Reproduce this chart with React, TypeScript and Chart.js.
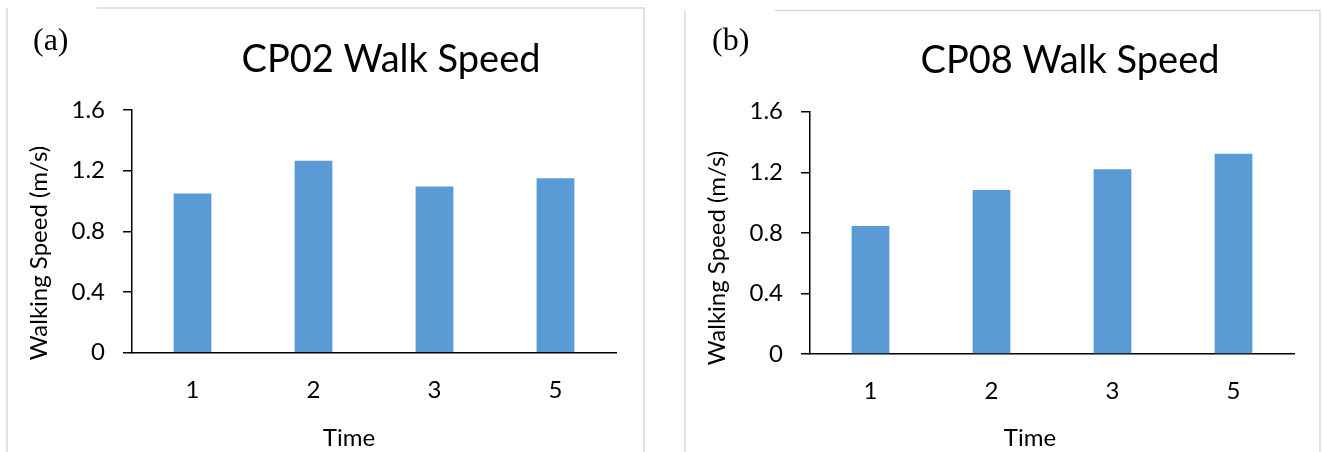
import React, { useEffect, useRef } from "react";
import { Chart, registerables } from "chart.js";

Chart.register(...registerables);

// ---- data ----
const categories = ["1", "2", "3", "5"];
const cp02Speed = [1.05, 1.265, 1.095, 1.15];
const cp08Speed = [0.845, 1.083, 1.22, 1.323];
const yTickValues = [0, 0.4, 0.8, 1.2, 1.6];
const yTickLabels = ["0", "0.4", "0.8", "1.2", "1.6"];
const panelLabels = ["(a)", "(b)"];
const chartTitles = ["CP02 Walk Speed", "CP08 Walk Speed"];
const xAxisTitle = "Time";
const yAxisTitle = "Walking Speed (m/s)";

const BAR_COLOR = "#5B9BD5";
const FONT = "Lato, 'Open Sans', sans-serif";
const TICK_SIZE = 24;
const AXIS_TITLE_SIZE = 24;
const TITLE_SIZE = 38;

type Layout = {
  canvasLeft: number;
  width: number;
  area: { left: number; right: number; top: number; bottom: number };
  frame: { left: number; top: number; topStart: number; right: number };
  label: { x: number; y: number };
  title: { x: number; y: number };
  yTitle: { x: number; y: number };
  xTitle: { x: number; y: number };
};

const layouts: Layout[] = [
  {
    canvasLeft: 0,
    width: 660,
    area: { left: 132, right: 616, top: 110, bottom: 352.7 },
    frame: { left: 7, top: 8, topStart: 97, right: 644 },
    label: { x: 33, y: 50 },
    title: { x: 391, y: 72 },
    yTitle: { x: 39, y: 253 },
    xTitle: { x: 349, y: 438 },
  },
  {
    canvasLeft: 660,
    width: 663,
    area: { left: 150, right: 634, top: 111.7, bottom: 354 },
    frame: { left: 25, top: 10.5, topStart: 115, right: 660 },
    label: { x: 52, y: 50 },
    title: { x: 410, y: 73 },
    yTitle: { x: 57, y: 258 },
    xTitle: { x: 370, y: 438 },
  },
];

const HEIGHT = 452;
const X_SCALE_H = 50;

function makeChart(canvas: HTMLCanvasElement, idx: number, values: number[]) {
  const L = layouts[idx];
  const decor = {
    id: "decor" + idx,
    beforeDraw(chart: any) {
      const ctx = chart.ctx;
      ctx.save();
      ctx.strokeStyle = "#D9D9D9";
      ctx.lineWidth = 1.5;
      ctx.beginPath();
      ctx.moveTo(L.frame.left, L.frame.top);
      ctx.lineTo(L.frame.left, HEIGHT);
      ctx.moveTo(L.frame.topStart, L.frame.top);
      ctx.lineTo(L.frame.right, L.frame.top);
      ctx.lineTo(L.frame.right, HEIGHT);
      ctx.stroke();
      ctx.restore();
    },
    afterDraw(chart: any) {
      const ctx = chart.ctx;
      ctx.save();
      ctx.fillStyle = "#000";
      ctx.textBaseline = "alphabetic";
      ctx.textAlign = "left";
      ctx.font = "32px 'Liberation Serif', 'Times New Roman', serif";
      ctx.fillText(panelLabels[idx], L.label.x, L.label.y);
      ctx.textAlign = "center";
      ctx.font = `${TITLE_SIZE}px ${FONT}`;
      ctx.fillText(chartTitles[idx], L.title.x, L.title.y);
      ctx.textBaseline = "middle";
      ctx.font = `${AXIS_TITLE_SIZE}px ${FONT}`;
      ctx.fillText(xAxisTitle, L.xTitle.x, L.xTitle.y);
      ctx.translate(L.yTitle.x, L.yTitle.y);
      ctx.rotate(-Math.PI / 2);
      ctx.fillText(yAxisTitle, 0, 0);
      ctx.restore();
    },
  };

  return new Chart(canvas, {
    type: "bar",
    data: {
      labels: categories,
      datasets: [
        {
          data: values,
          backgroundColor: BAR_COLOR,
          borderWidth: 0,
          barPercentage: 0.312,
          categoryPercentage: 1,
        },
      ],
    },
    options: {
      responsive: false,
      animation: false,
      devicePixelRatio: 1,
      layout: {
        padding: {
          left: 0,
          right: L.width - L.area.right,
          top: L.area.top,
          bottom: HEIGHT - L.area.bottom - X_SCALE_H,
        },
      },
      plugins: {
        legend: { display: false },
        tooltip: { enabled: false },
        title: { display: false },
      },
      scales: {
        x: {
          grid: { display: false, drawTicks: false, drawOnChartArea: false },
          border: { display: true, color: "#000", width: 1.5 },
          ticks: {
            color: "#000",
            padding: 23,
            font: { family: FONT, size: TICK_SIZE },
            maxRotation: 0,
          },
          afterFit(scale: any) {
            scale.height = X_SCALE_H;
          },
        },
        y: {
          min: yTickValues[0],
          max: yTickValues[yTickValues.length - 1],
          afterBuildTicks(scale: any) {
            scale.ticks = yTickValues.map((v) => ({ value: v }));
          },
          grid: {
            display: true,
            drawOnChartArea: false,
            drawTicks: true,
            tickLength: 9,
            color: "#000",
            lineWidth: 1.5,
          },
          border: { display: true, color: "#000", width: 1.5 },
          ticks: {
            color: "#000",
            padding: 18,
            font: { family: FONT, size: TICK_SIZE },
            callback: (_v: any, i: number) => yTickLabels[i],
          },
          afterFit(scale: any) {
            scale.width = L.area.left;
          },
        },
      },
    },
    plugins: [decor],
  });
}

export default function App() {
  const leftRef = useRef<HTMLCanvasElement>(null);
  const rightRef = useRef<HTMLCanvasElement>(null);

  useEffect(() => {
    const c1 = makeChart(leftRef.current!, 0, cp02Speed);
    const c2 = makeChart(rightRef.current!, 1, cp08Speed);
    return () => {
      c1.destroy();
      c2.destroy();
    };
  }, []);

  return (
    <div
      style={{
        position: "absolute",
        left: 0,
        top: 0,
        width: 1323,
        height: HEIGHT,
        background: "#fff",
        overflow: "hidden",
      }}
    >
      <canvas
        ref={leftRef}
        width={layouts[0].width}
        height={HEIGHT}
        style={{ position: "absolute", left: layouts[0].canvasLeft, top: 0, width: layouts[0].width, height: HEIGHT }}
      />
      <canvas
        ref={rightRef}
        width={layouts[1].width}
        height={HEIGHT}
        style={{ position: "absolute", left: layouts[1].canvasLeft, top: 0, width: layouts[1].width, height: HEIGHT }}
      />
    </div>
  );
}
